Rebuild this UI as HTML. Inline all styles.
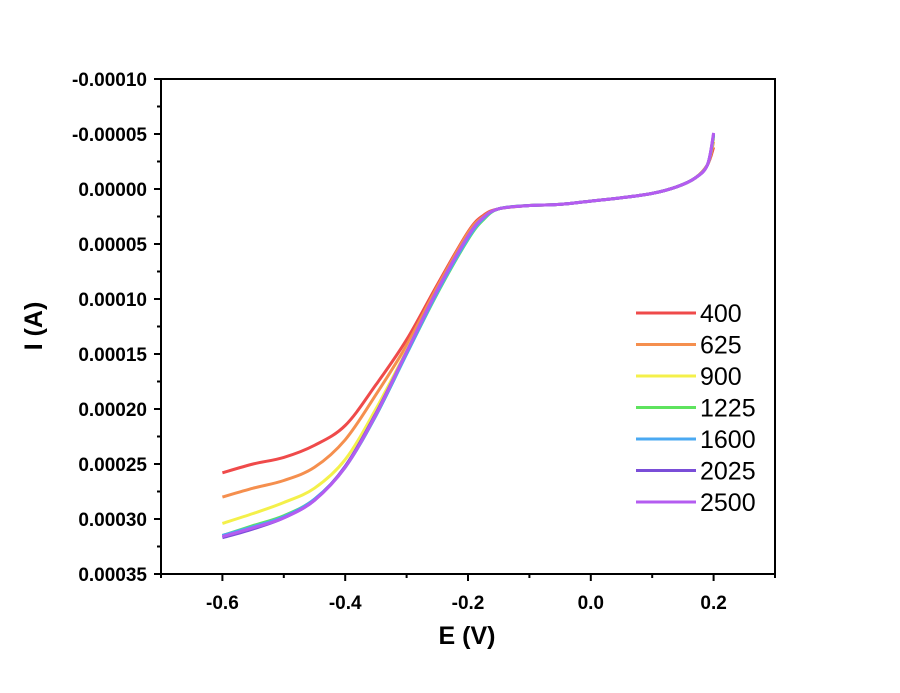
<!DOCTYPE html>
<html><head><meta charset="utf-8"><style>
html,body{margin:0;padding:0;background:#fff;}
svg text{font-family:"Liberation Sans",Arial,sans-serif;}
</style></head><body>
<svg id="chart" width="900" height="688" viewBox="0 0 900 688" xmlns="http://www.w3.org/2000/svg"></svg>
<script>
const eValues = [-0.6,-0.55,-0.5,-0.45,-0.4,-0.35,-0.3,-0.25,-0.2,-0.175,-0.15,-0.1,-0.05,0,0.05,0.1,0.14,0.17,0.19,0.2];
const seriesNames = ["400","625","900","1225","1600","2025","2500"];
const tail = [1.8,1.5,1.4,1.1,0.8,0.4,-0.2,-1.0,-2.2];
const s400 = [25.8,25.0,24.4,23.3,21.5,17.8,13.7,8.7,3.9,2.4].concat(tail,[-3.8]);
const s625 = [28.0,27.2,26.5,25.3,22.8,18.7,14.2,8.9,4.0,2.5].concat(tail,[-4.3]);
const s900 = [30.4,29.5,28.5,27.2,24.6,20.0,14.7,9.3,4.5,2.7].concat(tail,[-4.6]);
const s1225 = [31.5,30.6,29.7,28.2,25.3,20.6,15.0,9.5,4.6,2.8].concat(tail,[-4.8]);
const s1600 = [31.5,30.7,29.8,28.2,25.3,20.6,15.0,9.4,4.5,2.7].concat(tail,[-4.9]);
const s2025 = [31.7,30.9,29.9,28.3,25.2,20.4,14.8,9.2,4.3,2.6].concat(tail,[-5.0]);
const s2500 = [31.6,30.8,29.9,28.3,25.3,20.5,14.8,9.2,4.3,2.6].concat(tail,[-5.1]);
const seriesData = [s400,s625,s900,s1225,s1600,s2025,s2500];
const colors = ["#ef4a4a","#f58f4e","#f4f04a","#5ee35e","#4aa9f2","#7a4ed8","#b45cf0"];
const xTicks = [-0.6,-0.4,-0.2,0.0,0.2];
const xTickLabels = ["-0.6","-0.4","-0.2","0.0","0.2"];
const yTicks = [-10,-5,0,5,10,15,20,25,30,35];
const yTickLabels = ["-0.00010","-0.00005","0.00000","0.00005","0.00010","0.00015","0.00020","0.00025","0.00030","0.00035"];

const L=161,R=775,T=79,B=574;
const xMin=-0.7,xMax=0.3,yMin=-10,yMax=35;
const xs=v=>L+(v-xMin)/(xMax-xMin)*(R-L);
const ys=v=>T+(v-yMin)/(yMax-yMin)*(B-T);
const NS="http://www.w3.org/2000/svg";
const svg=document.getElementById('chart');
function mk(tag,attrs,parent){const e=document.createElementNS(NS,tag);for(const k in attrs)e.setAttribute(k,attrs[k]);(parent||svg).appendChild(e);return e;}

seriesData.forEach((arr,si)=>{
  const pts=arr.map((v,i)=>[xs(eValues[i]),ys(v)]);
  let d="M"+pts[0][0]+","+pts[0][1];
  for(let i=0;i<pts.length-1;i++){
    const p0=pts[Math.max(0,i-1)],p1=pts[i],p2=pts[i+1],p3=pts[Math.min(pts.length-1,i+2)];
    const c1=[p1[0]+(p2[0]-p0[0])/6,p1[1]+(p2[1]-p0[1])/6];
    const c2=[p2[0]-(p3[0]-p1[0])/6,p2[1]-(p3[1]-p1[1])/6];
    d+=" C"+c1[0]+","+c1[1]+" "+c2[0]+","+c2[1]+" "+p2[0]+","+p2[1];
  }
  const p=mk('path',{d:d,fill:'none',stroke:colors[si],'stroke-width':3});
  
  
});

const fr=mk('rect',{x:L,y:T,width:R-L,height:B-T,fill:'none',stroke:'#000','stroke-width':2});



xTicks.forEach((v,i)=>{
  const x=xs(v);
  mk('line',{x1:x,y1:B,x2:x,y2:B+7,stroke:'#000','stroke-width':2});
  const t=mk('text',{x:x,y:B+35,'text-anchor':'middle','font-size':19,'font-weight':'bold'});
  t.textContent=xTickLabels[i];
  
  
});
for(let v=-0.7;v<=0.31;v+=0.2){const x=xs(v);mk('line',{x1:x,y1:B,x2:x,y2:B+4,stroke:'#000','stroke-width':2});}
yTicks.forEach((v,i)=>{
  const y=ys(v);
  mk('line',{x1:L-7,y1:y,x2:L,y2:y,stroke:'#000','stroke-width':2});
  if(i<yTicks.length-1) mk('line',{x1:L-4,y1:y+27.5,x2:L,y2:y+27.5,stroke:'#000','stroke-width':2});
  const t=mk('text',{x:L-14,y:y+7,'text-anchor':'end','font-size':19,'font-weight':'bold'});
  t.textContent=yTickLabels[i];
  
  
});
const xt=mk('text',{x:467,y:644,'text-anchor':'middle','font-size':25,'font-weight':'bold'});
xt.textContent="E (V)";


const yt=mk('text',{x:0,y:0,'text-anchor':'middle','font-size':25,'font-weight':'bold',transform:'translate(42,326) rotate(-90)'});
yt.textContent="I (A)";



seriesNames.forEach((n,i)=>{
  const y=313+i*31.5;
  const g=mk('g',{});
  
  
  mk('line',{x1:636,y1:y,x2:696,y2:y,stroke:colors[i],'stroke-width':3},g);
  const t=mk('text',{x:700,y:y+9,'font-size':25},g);
  t.textContent=n;
});
</script>
</body></html>
